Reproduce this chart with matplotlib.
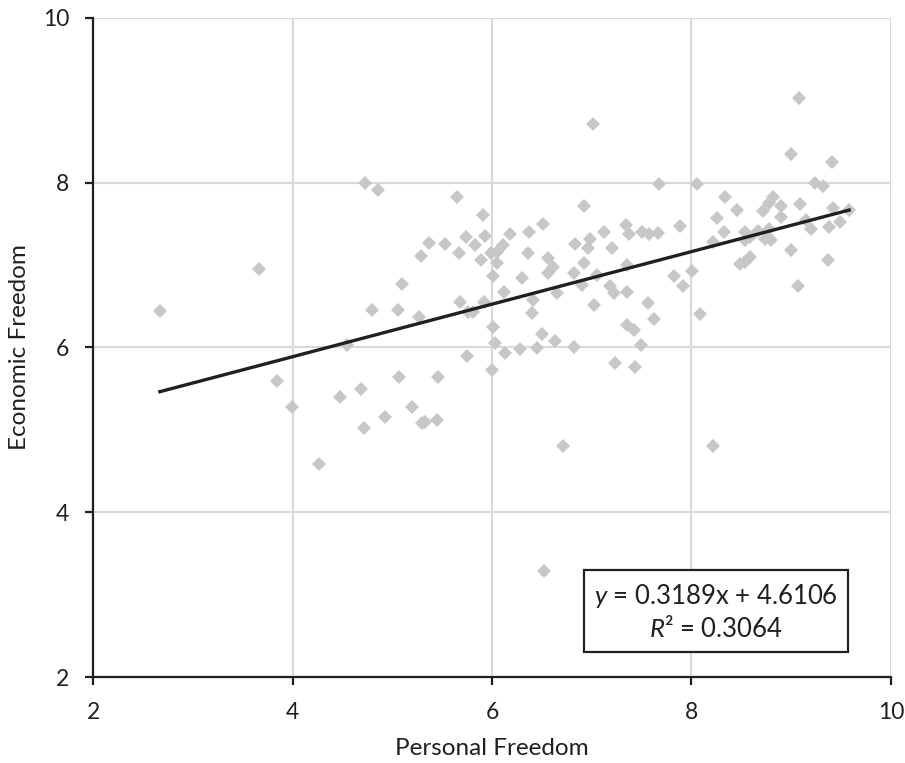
import numpy as np
import matplotlib
matplotlib.use('Agg')
import matplotlib.pyplot as plt

plt.rcParams['font.family'] = ['Lato', 'DejaVu Sans']
plt.rcParams['mathtext.fontset'] = 'custom'
plt.rcParams['mathtext.rm'] = 'Lato'
plt.rcParams['mathtext.it'] = 'Lato:italic'

# personal freedom (x) vs economic freedom (y)
personal = [
    2.67, 3.66, 3.84, 3.99, 4.27, 4.73, 4.86, 4.80, 4.55, 4.48, 4.69, 4.72, 4.93, 5.07,
    7.01, 6.92, 5.65, 5.91, 5.37, 5.53, 5.29, 5.67, 5.74, 5.83, 5.93, 6.18, 6.11, 6.05,
    5.99, 5.89, 6.05, 6.01, 6.37, 6.51, 6.36, 6.56, 6.61, 6.56, 6.30, 6.83, 6.98, 6.96,
    7.12, 7.20, 7.34, 7.37, 7.35, 6.92, 6.82, 7.05, 6.90, 7.18, 7.22, 7.35, 7.02, 6.65,
    6.12, 6.41, 6.40, 5.92, 5.68, 5.76, 5.81, 5.27, 5.06, 5.10, 6.01, 6.03, 6.13, 6.28,
    6.45, 6.50, 6.63, 6.82, 5.75, 7.35, 7.42, 7.23, 7.43, 6.00, 5.46, 5.20, 5.30, 5.33,
    5.45, 6.71, 6.52,
    9.00, 9.41, 7.67, 8.06, 9.24, 9.32, 8.34, 8.46, 8.82, 8.78, 8.90, 8.72, 9.09, 8.26,
    8.90, 9.42, 9.58, 9.15, 9.20, 9.38, 9.49, 7.88, 8.33, 8.54, 8.59, 8.67, 8.74, 8.80,
    8.78, 8.54, 8.22, 7.50, 7.57, 7.66, 9.00, 9.37, 8.49, 8.59, 8.54, 9.07, 8.01, 7.82,
    7.91, 8.09, 7.56, 7.62, 7.49, 8.22, 9.08,
]
economic = [
    6.44, 6.95, 5.59, 5.28, 4.58, 7.99, 7.91, 6.45, 6.03, 5.40, 5.49, 5.02, 5.15, 5.64,
    8.71, 7.71, 7.82, 7.60, 7.27, 7.25, 7.11, 7.14, 7.34, 7.24, 7.35, 7.38, 7.24, 7.16,
    7.14, 7.06, 7.02, 6.86, 7.40, 7.50, 7.14, 7.08, 6.98, 6.90, 6.84, 7.25, 7.32, 7.20,
    7.40, 7.21, 7.48, 7.38, 7.00, 7.02, 6.90, 6.88, 6.76, 6.74, 6.66, 6.67, 6.52, 6.66,
    6.67, 6.57, 6.42, 6.55, 6.55, 6.43, 6.43, 6.37, 6.45, 6.77, 6.25, 6.05, 5.93, 5.98,
    5.99, 6.16, 6.08, 6.00, 5.89, 6.27, 6.21, 5.81, 5.76, 5.72, 5.64, 5.28, 5.08, 5.10,
    5.12, 4.80, 3.29,
    8.35, 8.25, 7.98, 7.98, 7.99, 7.96, 7.83, 7.67, 7.82, 7.75, 7.71, 7.66, 7.74, 7.57,
    7.58, 7.69, 7.67, 7.54, 7.44, 7.46, 7.52, 7.47, 7.40, 7.40, 7.34, 7.41, 7.32, 7.30,
    7.44, 7.30, 7.28, 7.40, 7.38, 7.39, 7.18, 7.06, 7.01, 7.10, 7.04, 6.74, 6.93, 6.86,
    6.74, 6.41, 6.54, 6.34, 6.03, 4.80, 9.03,
]

slope = 0.3189
intercept = 4.6106
r2 = 0.3064

fig = plt.figure(figsize=(9.05, 7.63), dpi=100)
ax = fig.add_axes([0.1028, 0.1127, 0.8817, 0.8641])

ax.plot(personal, economic, linestyle='none', marker='D', markersize=7.5,
        color='#C6C7C9', markeredgewidth=0, zorder=3)

xfit = np.array([min(personal), max(personal)])
ax.plot(xfit, slope * xfit + intercept, color='#231F20', linewidth=2.4, zorder=4)

ax.set_xlim(2, 10)
ax.set_ylim(2, 10)
ax.set_xticks([2, 4, 6, 8, 10])
ax.set_yticks([2, 4, 6, 8, 10])
ax.grid(True, color='#D9D9D9', linewidth=1.5, zorder=0)
ax.set_axisbelow(True)

for side in ['top', 'right']:
    ax.spines[side].set_visible(False)
for side in ['left', 'bottom']:
    ax.spines[side].set_linewidth(1.6)
    ax.spines[side].set_color('#231F20')
ax.tick_params(direction='out', length=6, width=1.6, color='#231F20',
               labelsize=16.5, labelcolor='#231F20')
ax.tick_params(axis='x', pad=12)
ax.tick_params(axis='y', pad=11)

ax.set_xlabel('Personal Freedom', fontsize=17.5, color='#231F20')
ax.set_ylabel('Economic Freedom', fontsize=17.5, color='#231F20')
ax.xaxis.set_label_coords(0.5, -0.093)
ax.yaxis.set_label_coords(-0.079, 0.5)

ax.text(0.781, 0.099, '$y$ = %.4fx + %.4f\n$R$² = %.4f' % (slope, intercept, r2),
        transform=ax.transAxes, ha='center', va='center', multialignment='center',
        fontsize=18.5, color='#231F20', zorder=5, linespacing=1.3,
        bbox=dict(boxstyle='square,pad=0.4', facecolor='white',
                  edgecolor='#231F20', linewidth=1.6))

fig.savefig('out.png', dpi=100)
